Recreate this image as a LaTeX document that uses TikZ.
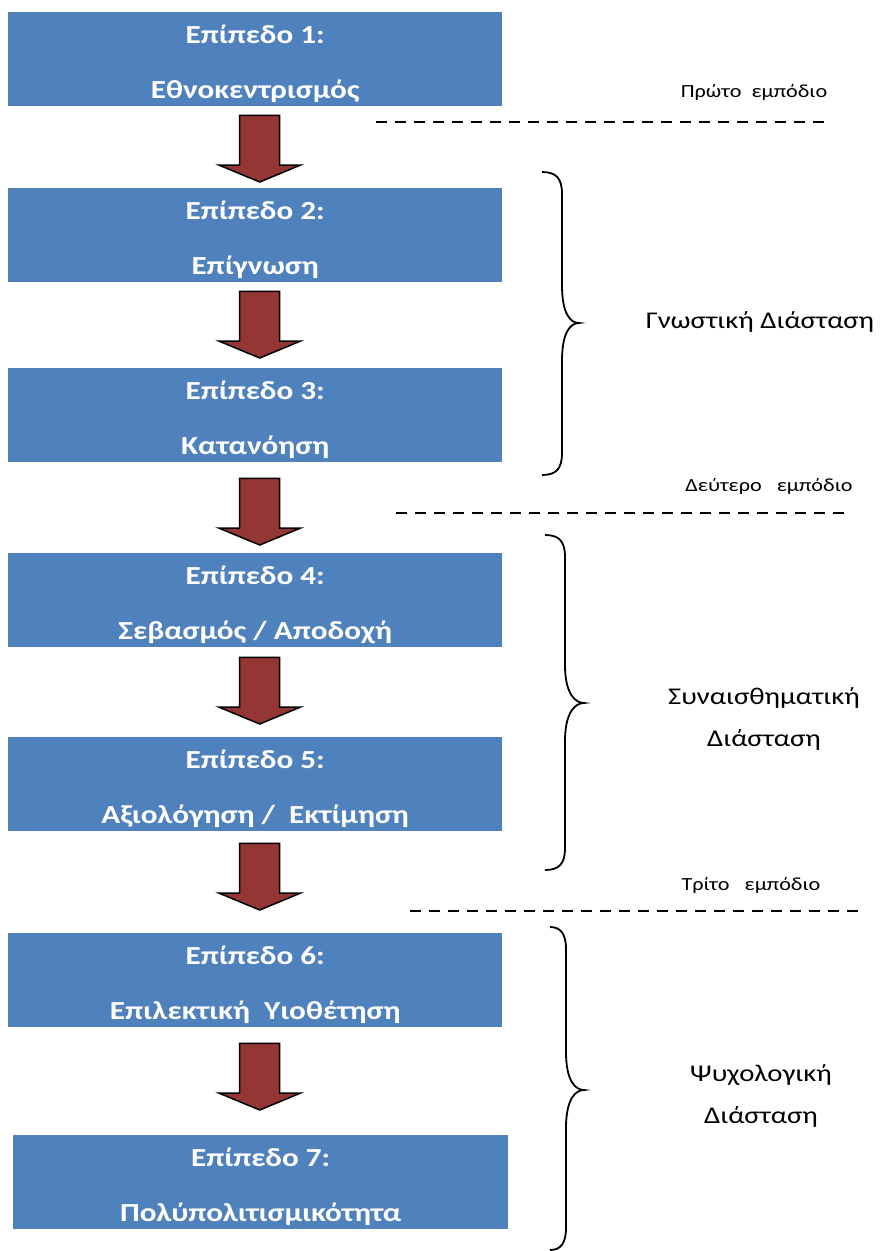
\documentclass[tikz,border=0pt]{standalone}
\usepackage{fontspec}
\setmainfont{Carlito}[FakeStretch=1.2]
\usetikzlibrary{calc}
\definecolor{lvlblue}{HTML}{4F81BD}
\definecolor{arrowred}{HTML}{943634}
\tikzset{
  levelbox/.style={fill=lvlblue, text=white, minimum width=494pt, minimum height=94pt,
    inner sep=0pt, anchor=north west, align=center, font=\fontsize{26}{55}\selectfont\bfseries},
  levelarrow/.style={fill=arrowred, draw=black, line width=1.5pt, line join=miter},
  barrier/.style={dash pattern=on 11pt off 8pt, line width=2pt},
  barrierlabel/.style={anchor=base, font=\fontsize{18.5}{20}\selectfont},
  dimlabel/.style={align=center, font=\fontsize{24}{42}\selectfont},
  dimbrace/.style={line width=1.8pt}
}
% two lines of a level box, with fixed line heights
\newcommand\leveltext[2]{\rule{0pt}{30pt}#1\\#2\rule[-7pt]{0pt}{7pt}}
% block arrow: upper box, lower box, gap below upper, gap above lower
\newcommand\levelarrow[4]{%
  \draw[levelarrow] let \p1=(#1.south), \p2=(#2.north) in
    (\x1-15.5pt,\y1-#3pt) -- (\x1+24.5pt,\y1-#3pt) -- (\x1+24.5pt,\y2+#4pt+17pt)
    -- (\x1+45.5pt,\y2+#4pt+17pt) -- (\x1+4.5pt,\y2+#4pt) -- (\x1-36.5pt,\y2+#4pt+17pt)
    -- (\x1-15.5pt,\y2+#4pt+17pt) -- cycle;}
% curly brace: x end, x line, x tip, y top, y tip, y bottom
\newcommand\dimbrace[6]{%
  \draw[dimbrace] (#1,#4) .. controls (#2-6,#4) and (#2,#4+6) .. (#2,#4+22)
    -- (#2,#5-38) .. controls (#2,#5-8) and (#3-8,#5) .. (#3,#5)
    .. controls (#3-8,#5) and (#2,#5+8) .. (#2,#5+38)
    -- (#2,#6-22) .. controls (#2,#6-6) and (#2-6,#6) .. (#1,#6);}
\begin{document}
\begin{tikzpicture}[x=1pt,y=-1pt]
\useasboundingbox (0,0) rectangle (879,1251);
% levels
\node[levelbox] (lvl1) at (8,12) {\leveltext{Επίπεδο 1:}{Εθνοκεντρισμός}};
\node[levelbox] (lvl2) at (8,188) {\leveltext{Επίπεδο 2:}{Επίγνωση}};
\node[levelbox] (lvl3) at (8,368) {\leveltext{Επίπεδο 3:}{Κατανόηση}};
\node[levelbox] (lvl4) at (8,553) {\leveltext{Επίπεδο 4:}{Σεβασμός / Αποδοχή}};
\node[levelbox] (lvl5) at (8,737) {\leveltext{Επίπεδο 5:}{Αξιολόγηση /\ \ Εκτίμηση}};
\node[levelbox] (lvl6) at (8,933) {\leveltext{Επίπεδο 6:}{Επιλεκτική\ \ Υιοθέτηση}};
\node[levelbox, minimum width=495pt] (lvl7) at (13,1135) {\leveltext{Επίπεδο 7:}{Πολύπολιτισμικότητα}};
% arrows
\levelarrow{lvl1}{lvl2}{9}{6}
\levelarrow{lvl2}{lvl3}{9}{10}
\levelarrow{lvl3}{lvl4}{16}{8}
\levelarrow{lvl4}{lvl5}{10}{13}
\levelarrow{lvl5}{lvl6}{12}{23}
\levelarrow{lvl6}{lvl7}{16}{25}
% barriers
\coordinate (bar1w) at (376,122);
\coordinate (bar1e) at (832,122);
\coordinate (bar2w) at (396,513);
\coordinate (bar2e) at (850,513);
\coordinate (bar3w) at (410,911);
\coordinate (bar3e) at (865,911);
\draw[barrier] (bar1w) -- (bar1e);
\draw[barrier] (bar2w) -- (bar2e);
\draw[barrier] (bar3w) -- (bar3e);
\node[barrierlabel] (bar1txt) at (754,97) {Πρώτο\ \ εμπόδιο};
\node[barrierlabel] (bar2txt) at (769,491) {Δεύτερο\ \ \ εμπόδιο};
\node[barrierlabel] (bar3txt) at (751,890) {Τρίτο\ \ \ εμπόδιο};
% dimensions
\dimbrace{542}{562}{579}{172}{323}{475}
\dimbrace{545}{565}{584}{535}{703}{870}
\dimbrace{550}{566}{584}{927}{1090}{1250}
\node[dimlabel] (dim1) at (760,322) {Γνωστική Διάσταση};
\node[dimlabel] (dim2) at (764,719) {Συναισθηματική\\Διάσταση};
\node[dimlabel] (dim3) at (761,1096) {Ψυχολογική\\Διάσταση};
\end{tikzpicture}
\end{document}
